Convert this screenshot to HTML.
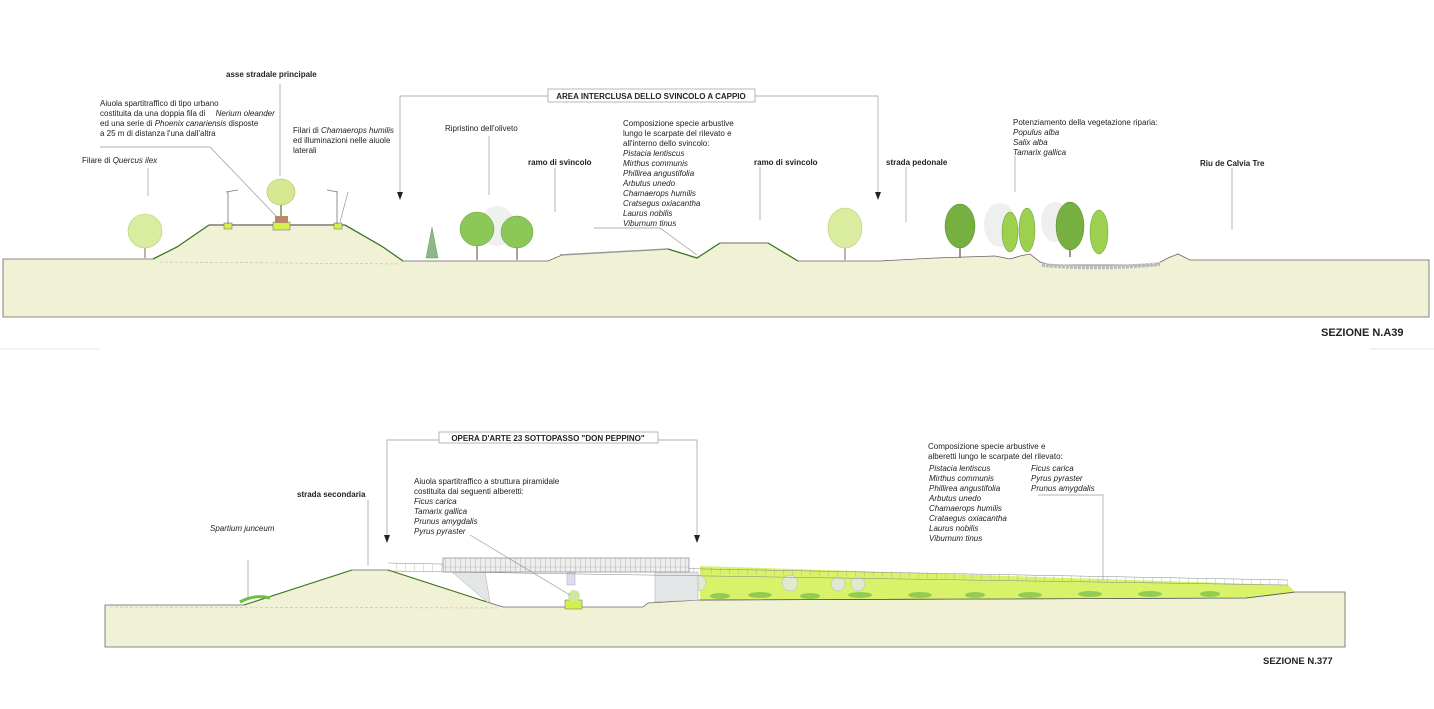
<!DOCTYPE html>
<html><head><meta charset="utf-8"><style>
html,body{margin:0;padding:0;background:#fff;}
svg{display:block}
text{font-family:"Liberation Sans",sans-serif;font-size:8px;fill:#222;}
.b{font-weight:bold}
.i{font-style:italic}
.l{stroke:#999;stroke-width:0.7;fill:none}
</style></head><body>
<svg width="1434" height="709" viewBox="0 0 1434 709" xmlns="http://www.w3.org/2000/svg">
<defs><pattern id="g" width="5" height="14" patternUnits="userSpaceOnUse"><rect width="5" height="14" fill="#eee"/><line x1="0" y1="0" x2="0" y2="14" stroke="#888" stroke-width="0.6"/><line x1="0" y1="7" x2="5" y2="7" stroke="#aaa" stroke-width="0.4"/></pattern>
<pattern id="f" width="9" height="10" patternUnits="userSpaceOnUse"><line x1="0" y1="0" x2="0" y2="10" stroke="#999" stroke-width="0.6"/></pattern></defs>
<!-- ========== SECTION A39 ========== -->
<path d="M3,259 L153,259 L177,247 L209,225 L345,225 L383,247 L403,261 L548,261 L562,255 L668,249 L697,258 L720,243 L768,243 L798,261 L880,261 L935,258 L995,256 L1010,259 L1020,256 L1030,254 L1040,262 L1050,265 L1155,265 L1168,258 L1178,254 L1190,260 L1429,260 L1429,317 L3,317 Z" fill="#f1f1d6" stroke="#666" stroke-width="0.8"/>
<path d="M153,259 L177,247 L209,225 M345,225 L383,247 L403,261 M668,249 L697,258 L720,243 M768,243 L798,261" stroke="#3d7a20" stroke-width="1.3" fill="none"/>
<path d="M209,225 L345,225" stroke="#999" stroke-width="2"/>
<path d="M560,255 L668,249 M720,243 L768,243" stroke="#999" stroke-width="1.5"/>
<path d="M160,262 L400,264" stroke="#bbb" stroke-width="0.6" stroke-dasharray="3,2"/>
<path d="M1042,265 Q1100,270 1160,264" stroke="#bbb" stroke-width="4" fill="none" stroke-dasharray="3,1"/>
<rect x="273" y="222" width="17" height="8" fill="#d4f04a" stroke="#666" stroke-width="0.5"/>
<rect x="275" y="216" width="13" height="7" fill="#b58a6a"/>
<rect x="224" y="223" width="8" height="6" fill="#d4f04a" stroke="#666" stroke-width="0.5"/>
<rect x="334" y="223" width="8" height="6" fill="#d4f04a" stroke="#666" stroke-width="0.5"/>
<path d="M228,224 L228,192 M226,192 L238,190 M337,224 L337,192 M327,190 L338,192" stroke="#777" stroke-width="0.8"/>
<line x1="281" y1="216" x2="281" y2="195" stroke="#9a8" stroke-width="2"/>
<ellipse cx="281" cy="192" rx="14" ry="13" fill="#d6e890" stroke="#a8c060" stroke-width="0.6"/>
<line x1="145" y1="258" x2="145" y2="238" stroke="#a98" stroke-width="1.5"/>
<ellipse cx="145" cy="231" rx="17" ry="17" fill="#d9eca0" stroke="#b8d070" stroke-width="0.6"/>
<polygon points="432,227 426,258 438,258" fill="#8fb88a" stroke="#6a9a60" stroke-width="0.5"/>
<ellipse cx="497" cy="226" rx="18" ry="20" fill="#eef1ee"/>
<line x1="477" y1="260" x2="477" y2="238" stroke="#887" stroke-width="1.5"/>
<ellipse cx="477" cy="229" rx="17" ry="17" fill="#8cc858" stroke="#5f9a35" stroke-width="0.5"/>
<line x1="517" y1="260" x2="517" y2="238" stroke="#887" stroke-width="1.5"/>
<ellipse cx="517" cy="232" rx="16" ry="16" fill="#8cc858" stroke="#5f9a35" stroke-width="0.5"/>
<line x1="845" y1="260" x2="845" y2="240" stroke="#a98" stroke-width="1.5"/>
<ellipse cx="845" cy="228" rx="17" ry="20" fill="#d9eca0" stroke="#b8d070" stroke-width="0.6"/>
<ellipse cx="1000" cy="225" rx="16" ry="22" fill="#eef0ee"/>
<ellipse cx="1055" cy="222" rx="14" ry="20" fill="#eef0ee"/>
<line x1="960" y1="258" x2="960" y2="240" stroke="#776" stroke-width="1.5"/>
<ellipse cx="960" cy="226" rx="15" ry="22" fill="#76b040" stroke="#4e8a2a" stroke-width="0.5"/>
<ellipse cx="1010" cy="232" rx="8" ry="20" fill="#9ed050" stroke="#5f9a35" stroke-width="0.5"/>
<ellipse cx="1027" cy="230" rx="8" ry="22" fill="#9ed050" stroke="#5f9a35" stroke-width="0.5"/>
<line x1="1070" y1="257" x2="1070" y2="240" stroke="#776" stroke-width="1.5"/>
<ellipse cx="1070" cy="226" rx="14" ry="24" fill="#76b040" stroke="#4e8a2a" stroke-width="0.5"/>
<ellipse cx="1099" cy="232" rx="9" ry="22" fill="#9ed050" stroke="#5f9a35" stroke-width="0.5"/>
<path class="l" d="M148,168 V196 M100,147 H210 L276,216 M280,84 V176 M348,192 L340,222 M489,136 V195 M555,168 V212 M594,228 H660 L697,255 M760,167 V220 M906,167 V222 M1015,156 V192 M1232,168 V230"/>
<path class="l" d="M400,195 V96 H548 M755,96 H878 V195"/>
<polygon points="397,192 403,192 400,200" fill="#222"/>
<polygon points="875,192 881,192 878,200" fill="#222"/>
<rect x="548" y="89" width="207" height="13" fill="#fff" stroke="#999" stroke-width="0.7"/>
<text x="651" y="99" class="b" text-anchor="middle" style="font-size:8px">AREA INTERCLUSA DELLO SVINCOLO A CAPPIO</text>
<text x="226" y="77" class="b">asse stradale principale</text>
<text x="100" y="106">Aiuola spartitraffico di tipo urbano</text>
<text x="100" y="116">costituita da una doppia fila di <tspan class="i" dx="8">Nerium oleander</tspan></text>
<text x="100" y="126">ed una serie di <tspan class="i">Phoenix canariensis</tspan> disposte</text>
<text x="100" y="136">a 25 m di distanza l'una dall'altra</text>
<text x="293" y="133">Filari di <tspan class="i">Chamaerops humilis</tspan></text>
<text x="293" y="143">ed illuminazioni nelle aiuole</text>
<text x="293" y="153">laterali</text>
<text x="82" y="163">Filare di <tspan class="i">Quercus ilex</tspan></text>
<text x="445" y="131">Ripristino dell'oliveto</text>
<text x="528" y="165" class="b">ramo di svincolo</text>
<text x="623" y="126">Composizione specie arbustive</text>
<text x="623" y="136">lungo le scarpate del rilevato e</text>
<text x="623" y="146">all'interno dello svincolo:</text>
<text x="623" y="156" class="i">Pistacia lentiscus</text>
<text x="623" y="166" class="i">Mirthus communis</text>
<text x="623" y="176" class="i">Phillirea angustifolia</text>
<text x="623" y="186" class="i">Arbutus unedo</text>
<text x="623" y="196" class="i">Chamaerops humilis</text>
<text x="623" y="206" class="i">Cratsegus oxiacantha</text>
<text x="623" y="216" class="i">Laurus nobilis</text>
<text x="623" y="226" class="i">Viburnum tinus</text>
<text x="754" y="165" class="b">ramo di svincolo</text>
<text x="886" y="165" class="b">strada pedonale</text>
<text x="1013" y="125">Potenziamento della vegetazione riparia:</text>
<text x="1013" y="135" class="i">Populus alba</text>
<text x="1013" y="145" class="i">Salix alba</text>
<text x="1013" y="155" class="i">Tamarix gallica</text>
<text x="1200" y="166" class="b">Riu de Calvia Tre</text>
<text x="1321" y="336" class="b" style="font-size:11px">SEZIONE N.A39</text>
<line x1="0" y1="349" x2="100" y2="349" stroke="#ddd" stroke-width="0.8"/>
<line x1="1370" y1="349" x2="1434" y2="349" stroke="#ddd" stroke-width="0.8"/>

<!-- ========== SECTION 377 ========== -->
<path d="M105,605 L244,605 L352,570 L388,570 L487,602 L503,607 L643,607 L648,603 L700,600 L1246,598 L1295,592 L1345,592 L1345,647 L105,647 Z" fill="#f1f1d6" stroke="#666" stroke-width="0.8"/>
<path d="M244,605 L352,570 M388,570 L487,602" stroke="#3d7a20" stroke-width="1.1" fill="none"/>
<path d="M110,607 L500,608" stroke="#bbb" stroke-width="0.6" stroke-dasharray="3,2"/>
<polygon points="700,566 1288,585 1295,592 1246,598 700,600" fill="#d8f26a"/>
<path d="M700,600 L1246,598 L1295,592" stroke="#555" stroke-width="0.8" fill="none"/>
<g fill="#8cc850" opacity="0.9">
<ellipse cx="720" cy="596" rx="10" ry="3"/><ellipse cx="760" cy="595" rx="12" ry="3"/><ellipse cx="810" cy="596" rx="10" ry="3"/><ellipse cx="860" cy="595" rx="12" ry="3"/><ellipse cx="920" cy="595" rx="12" ry="3"/><ellipse cx="975" cy="595" rx="10" ry="3"/><ellipse cx="1030" cy="595" rx="12" ry="3"/><ellipse cx="1090" cy="594" rx="12" ry="3"/><ellipse cx="1150" cy="594" rx="12" ry="3"/><ellipse cx="1210" cy="594" rx="10" ry="3"/>
</g>
<g fill="#e0ead0" stroke="#aab" stroke-width="0.4">
<circle cx="698" cy="583" r="8"/><circle cx="790" cy="583" r="8"/><circle cx="838" cy="584" r="7"/><circle cx="858" cy="584" r="7"/>
</g>
<polygon points="452,572 485,572 490,602 487,602" fill="#e2e6e6" stroke="#aaa" stroke-width="0.5"/>
<polygon points="655,572 698,572 698,600 655,602" fill="#e2e6e6" stroke="#aaa" stroke-width="0.5"/>
<rect x="567" y="572" width="8" height="13" fill="#dde" stroke="#999" stroke-width="0.4"/>
<g stroke="#888" stroke-width="0.5">
<path d="M388,563 L1288,580 M388,571 L1288,585" fill="none"/>
</g>
<rect x="443" y="558" width="246" height="14" fill="url(#g)" stroke="#777" stroke-width="0.6"/>
<polygon points="689,567 1288,580 1288,586 689,573" fill="url(#f)"/>
<polygon points="388,563 443,564 443,571 388,571" fill="url(#f)"/>
<rect x="565" y="600" width="17" height="9" fill="#d4f04a" stroke="#666" stroke-width="0.5"/>
<ellipse cx="574" cy="596" rx="6" ry="6" fill="#cfe8a0"/>
<path d="M240,602 Q255,594 270,598" stroke="#6bc040" stroke-width="3" fill="none"/>
<path class="l" d="M387,537 V440 H439 M658,440 H697 V537 M248,560 V600 M368,500 V566 M470,535 L570,595 M1038,495 H1103 V580"/>
<polygon points="384,535 390,535 387,543" fill="#222"/>
<polygon points="694,535 700,535 697,543" fill="#222"/>
<rect x="439" y="432" width="219" height="11" fill="#fff" stroke="#999" stroke-width="0.7"/>
<text x="548" y="441" class="b" text-anchor="middle" style="font-size:8px">OPERA D'ARTE 23 SOTTOPASSO "DON PEPPINO"</text>
<text x="297" y="497" class="b">strada secondaria</text>
<text x="210" y="531" class="i">Spartium junceum</text>
<text x="414" y="484">Aiuola spartitraffico a struttura piramidale</text>
<text x="414" y="494">costituita dai seguenti alberetti:</text>
<text x="414" y="504" class="i">Ficus carica</text>
<text x="414" y="514" class="i">Tamarix gallica</text>
<text x="414" y="524" class="i">Prunus amygdalis</text>
<text x="414" y="534" class="i">Pyrus pyraster</text>
<text x="928" y="449">Composizione specie arbustive e</text>
<text x="928" y="459">alberetti lungo le scarpate del rilevato:</text>
<text x="929" y="471" class="i">Pistacia lentiscus</text>
<text x="929" y="481" class="i">Mirthus communis</text>
<text x="929" y="491" class="i">Phillirea angustifolia</text>
<text x="929" y="501" class="i">Arbutus unedo</text>
<text x="929" y="511" class="i">Chamaerops humilis</text>
<text x="929" y="521" class="i">Crataegus oxiacantha</text>
<text x="929" y="531" class="i">Laurus nobilis</text>
<text x="929" y="541" class="i">Viburnum tinus</text>
<text x="1031" y="471" class="i">Ficus carica</text>
<text x="1031" y="481" class="i">Pyrus pyraster</text>
<text x="1031" y="491" class="i">Prunus amygdalis</text>
<text x="1263" y="664" class="b" style="font-size:9.5px">SEZIONE N.377</text>
</svg>
</body></html>
